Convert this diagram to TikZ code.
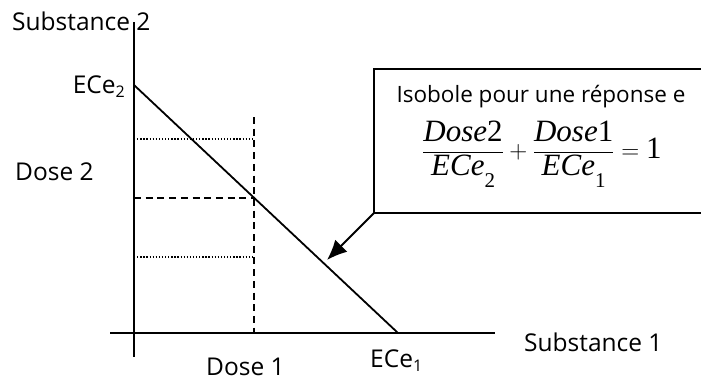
\documentclass[tikz,border=0pt]{standalone}
\usepackage{fontspec}
\setmainfont{Open Sans}
\newfontfamily\tnr{Liberation Serif}
\usetikzlibrary{arrows.meta}
\newcommand\subsc[1]{\raisebox{-0.2em}{\fontsize{16}{16}\selectfont #1}}
\newcommand\msub[1]{\raisebox{-12pt}{\tnr\upshape\fontsize{21}{21}\selectfont #1}}
\begin{document}
\begin{tikzpicture}[x=1pt,y=-1pt,
  axis/.style={line width=1.8pt},
  lbl/.style={inner sep=0pt,font=\fontsize{24.5}{28}\selectfont},
  dashline/.style={line width=1.8pt,dash pattern=on 7pt off 4.7pt},
  dotline/.style={line width=1.4pt,dash pattern=on 1.3pt off 1.8pt},
  boxline/.style={line width=1.8pt}]
\useasboundingbox (0,0) rectangle (701,383);
% axes
\coordinate (ytop) at (134,22);
\coordinate (ybot) at (134,357);
\coordinate (xleft) at (110,333);
\coordinate (xright) at (495,333);
\coordinate (E2) at (134,85);
\coordinate (E1) at (398,333);
\coordinate (D1top) at (254,117);
\coordinate (D1bot) at (254,333);
\coordinate (D2l) at (134,198);
\coordinate (D2r) at (254,198);
\coordinate (P1l) at (134,139);
\coordinate (P1r) at (254,139);
\coordinate (P2l) at (134,257);
\coordinate (P2r) at (254,257);
\coordinate (tip) at (327,260);
\draw[axis] (ytop) -- (ybot);
\draw[axis] (xleft) -- (xright);
\draw[axis] (E2) -- (E1);
\draw[dashline] (D1top) -- (D1bot);
\draw[dashline] (D2l) -- (D2r);
\draw[dotline] (P1l) -- (P1r);
\draw[dotline] (P2l) -- (P2r);
% box
\coordinate (bTR) at (702,69);
\coordinate (bTL) at (374,69);
\coordinate (bBL) at (374,213);
\coordinate (bBR) at (702,213);
\draw[boxline] (bTR) -- (bTL) -- (bBL) -- (bBR);
\draw[line width=1.8pt,-{Latex[length=20pt,width=17pt]}] (bBL) -- (tip);
% labels
\node[lbl,anchor=base west] (s2) at (12,30) {Substance 2};
\node[lbl,anchor=base east] (e2) at (125,93) {ECe\subsc{2}};
\node[lbl,anchor=base west] (d2) at (15,180) {Dose 2};
\node[lbl,anchor=base west] (d1) at (206,375) {Dose 1};
\node[lbl,anchor=base west] (e1) at (370,367) {ECe\subsc{1}};
\node[lbl,anchor=base west] (s1) at (524,351) {Substance 1};
\node[inner sep=0pt,anchor=base,font=\fontsize{22.5}{26}\selectfont] (iso) at (541,102) {Isobole pour une réponse e};
\node[inner sep=0pt,font=\fontsize{31}{36}\selectfont] (eq) at (542,154)
 {$\displaystyle\frac{\mbox{\tnr\itshape Dose}\mbox{\tnr 2}}{\mbox{\tnr\itshape ECe\msub{2}}}
  +\frac{\mbox{\tnr\itshape Dose}\mbox{\tnr 1}}{\mbox{\tnr\itshape ECe\msub{1}}}
  =\mbox{\tnr 1}$};
\end{tikzpicture}
\end{document}
